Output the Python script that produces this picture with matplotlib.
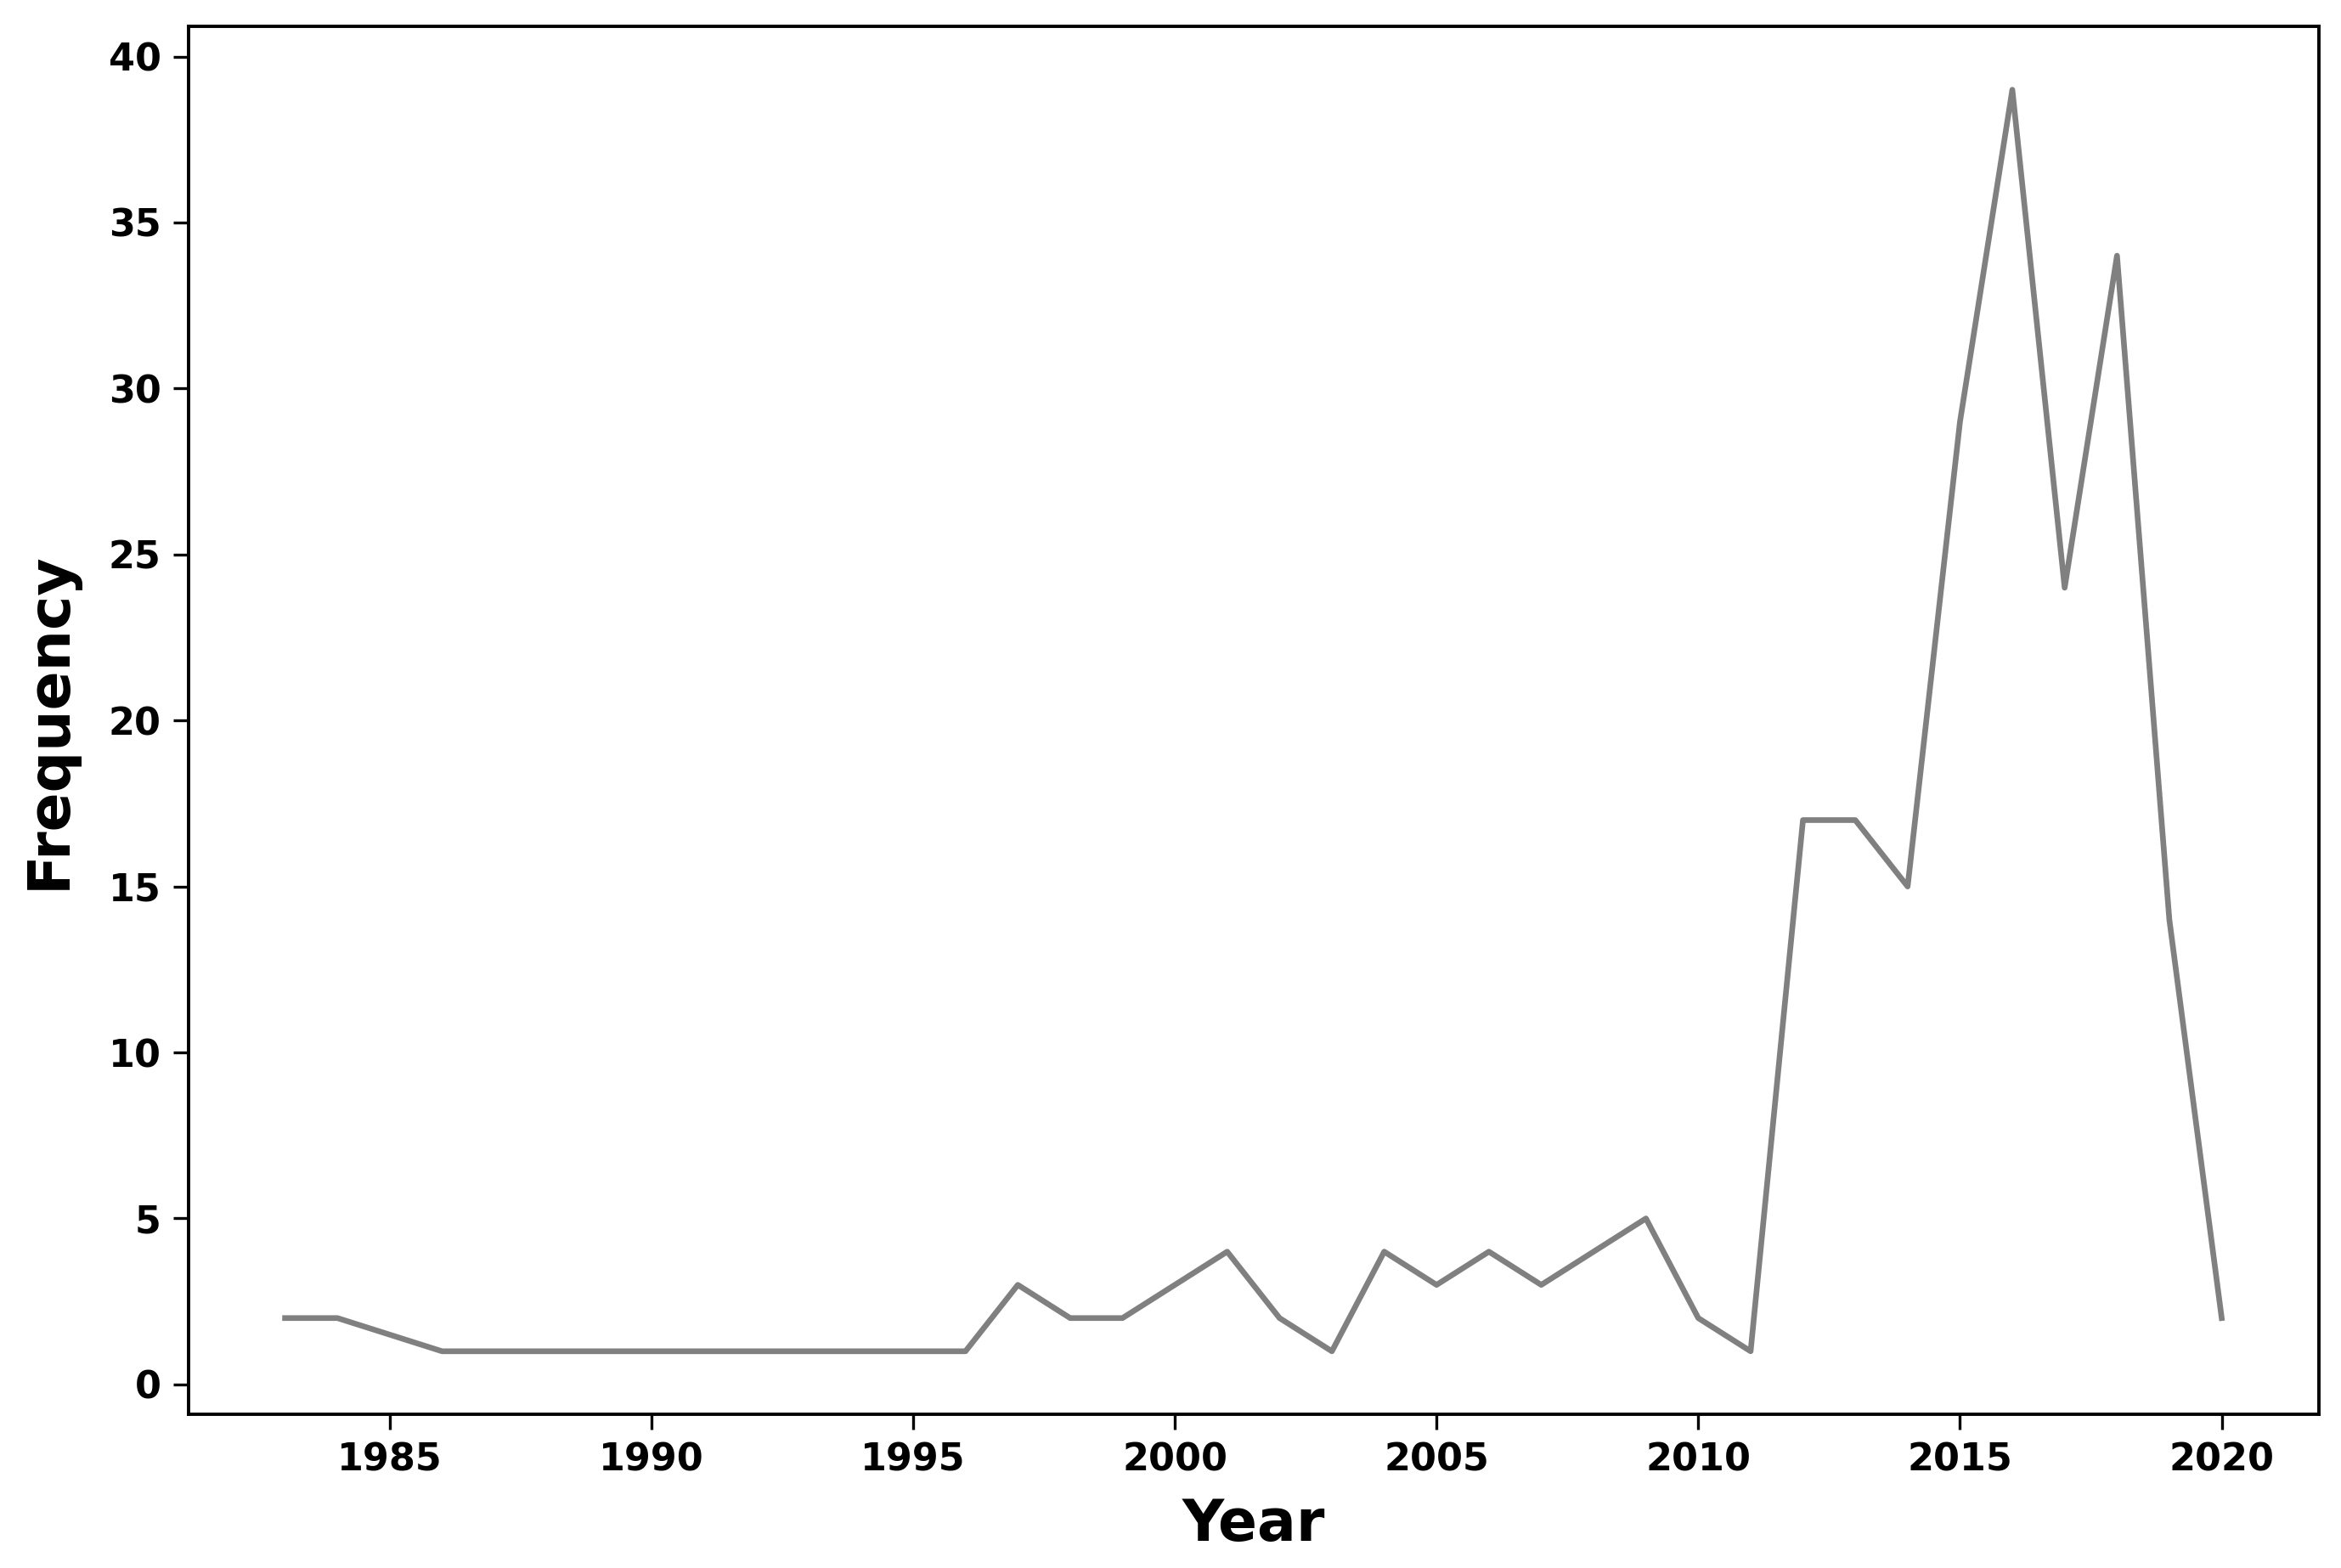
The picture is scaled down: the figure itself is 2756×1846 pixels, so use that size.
import matplotlib
matplotlib.use("Agg")
import matplotlib.pyplot as plt

years = [1983, 1984, 1986, 1987, 1988, 1989, 1990, 1991, 1992, 1993, 1994,
         1995, 1996, 1997, 1998, 1999, 2000, 2001, 2002, 2003, 2004, 2005,
         2006, 2007, 2008, 2009, 2010, 2011, 2012, 2013, 2014, 2015, 2016,
         2017, 2018, 2019, 2020]
frequency = [2, 2, 1, 1, 1, 1, 1, 1, 1, 1, 1,
             1, 1, 3, 2, 2, 3, 4, 2, 1, 4, 3,
             4, 3, 4, 5, 2, 1, 17, 17, 15, 29, 39,
             24, 34, 14, 2]
x_label = "Year"
y_label = "Frequency"

fig = plt.figure(figsize=(13.78, 9.23), dpi=200)
ax = fig.add_axes([0.0804, 0.098, 0.9100, 0.885])
ax.plot(years, frequency, color="#808080", linewidth=2.4)

ax.set_xticks([1985, 1990, 1995, 2000, 2005, 2010, 2015, 2020])
ax.set_yticks([0, 5, 10, 15, 20, 25, 30, 35, 40])
ax.set_xlabel(x_label, fontsize=24.5, fontweight="bold", labelpad=8)
ax.set_ylabel(y_label, fontsize=24.5, fontweight="bold", labelpad=13)
ax.tick_params(axis="both", labelsize=16, length=6.5, width=1.2, pad=5)
for lab in ax.get_xticklabels() + ax.get_yticklabels():
    lab.set_fontweight("bold")
for s in ax.spines.values():
    s.set_linewidth(1.4)

fig.savefig("out.png", dpi=200)
